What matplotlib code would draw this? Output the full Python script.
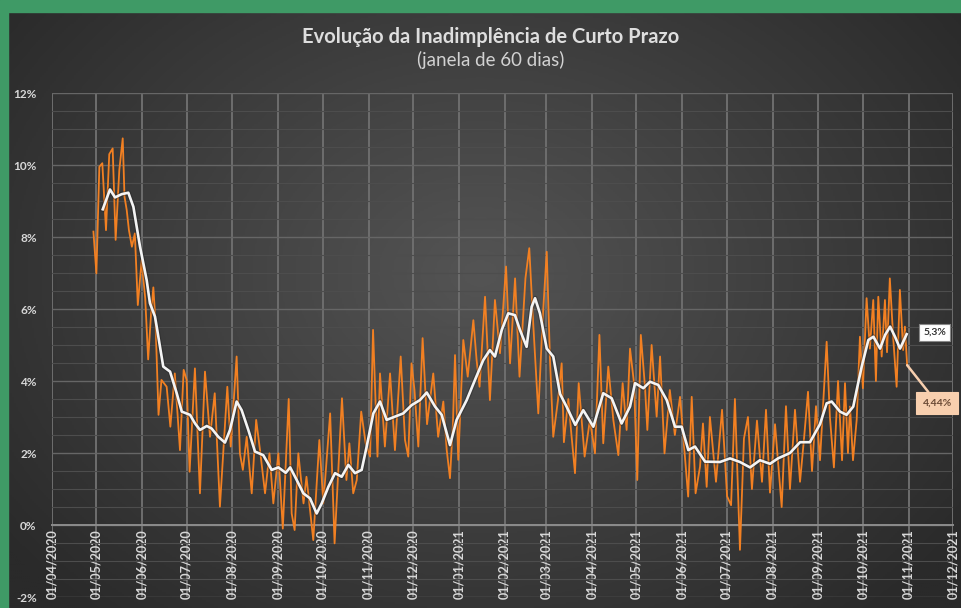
import numpy as np
import pandas as pd
import matplotlib
matplotlib.use("Agg")
import matplotlib.pyplot as plt
from matplotlib.patches import Rectangle
from matplotlib.ticker import MultipleLocator, FuncFormatter
from matplotlib.colors import LinearSegmentedColormap

plt.rcParams['font.family'] = ['Lato', 'DejaVu Sans']

# dias contados a partir de 01/04/2020
inicio = pd.Timestamp("2020-04-01")

# inadimplência diária (%)
dias_diaria = [28, 30, 32, 34, 36.5, 38.7, 41, 43, 45.5, 47.8, 49, 50.5, 52, 54, 56, 58, 60.6, 63, 65, 67,
               68.5, 70, 72, 74, 77.5, 80, 83, 86.5, 89, 91, 93, 96.6, 100, 103.4, 106.8, 110, 113.5, 118.5,
               120.8, 124.8, 127, 129, 131.6, 135, 138, 140.6, 144, 147, 149.6, 153, 156, 160, 162, 164,
               166.5, 170, 172, 176.6, 180.7, 183.4, 188, 191, 194.7, 196, 199, 201, 203.6, 206, 209, 212,
               215, 217, 220, 221.7, 225, 228.5, 231.8, 235.7, 238.6, 240.8, 243, 245, 247.6, 250.5, 253.5,
               257.7, 261, 264.5, 266.8, 269, 271, 272.4, 274.6, 278, 281, 284.8, 287, 289, 292.7, 296,
               299.4, 302.8, 306.9, 309.6, 313, 316, 320, 322.6, 325, 328.7, 331.6, 334.4, 336.6, 338.8,
               342, 344.5, 346, 349, 351, 353.5, 356, 360, 363.6, 367, 370, 372.6, 376, 379.4, 382.8,
               385.7, 388.4, 390.7, 393.4, 395.6, 398, 400.8, 402.4, 405.3, 408.7, 411, 414, 417.6, 421,
               424.5, 430, 432.4, 435, 438, 440, 442.5, 444.7, 448.8, 452.9, 456.3, 459, 461.6, 465,
               467.7, 470.4, 473.1, 476.5, 479.9, 482.6, 485.3, 488.7, 493.2, 496.1, 498.8, 502.2, 505.6,
               508.3, 511, 513.7, 516.4, 519.1, 523.6, 525.8, 528.5, 531.3, 534, 536, 538, 539.4, 541.4,
               543.9, 546.1, 548.1, 550.6, 552.8, 555.1, 556.9, 558.5, 560.8, 563, 564.4, 566.3, 568.6,
               570.9, 573.1, 575.3, 576.5, 578]
inad_diaria = [8.15, 6.99, 9.95, 10.05, 8.19, 10.3, 10.46, 7.92, 9.86, 10.74, 9.12, 8.75, 8.19, 7.73, 8.1, 6.11, 7.36, 6.3, 4.6, 5.9,
               6.6, 5.6, 3.06, 4.03, 3.84, 2.73, 4.21, 2.08, 4.31, 4.03, 1.48, 4.35, 0.88, 4.26, 2.45, 3.66, 0.51, 3.84,
               2.18, 4.68, 1.99, 1.53, 2.45, 0.88, 2.92, 2.08, 0.88, 1.99, 0.6, 1.99, -0.1, 3.5, 0.32, -0.14,
               1.99, 0.6, 1.34, -0.42, 2.36, 0.6, 3.1, -0.51, 2.45, 3.52, 1.25, 2.27, 0.88, 1.25, 3.15, 2.27,
               1.9, 5.42, 1.9, 4.21, 2.18, 4.21, 2.08, 4.68, 2.36, 1.9, 4.49, 3.75, 2.18, 5.19, 2.8,
               4.21, 2.45, 3.43, 2.08, 1.3, 2.82, 4.72, 1.81, 5.14, 4.12, 5.69, 4.58, 3.84, 6.34, 3.47,
               6.25, 4.77, 7.18, 4.49, 6.85, 4.12, 6.85, 7.69, 5.79, 3.1, 5.69, 7.59, 4.58, 2.45,
               3.47, 4.49, 2.3, 3.5, 2.55, 1.44, 3.94, 1.9, 2.92, 1.99, 5.28, 2.27, 4.4, 2.92, 1.94,
               3.94, 2.64, 4.9, 3.94, 1.25, 5.28, 3.84, 2.64, 5.0, 3.01, 4.68, 1.99, 3.75, 2.5,
               3.56, 0.79, 3.56, 0.88, 1.62, 2.82, 1.06, 3.0, 1.2, 3.2, 0.8, 0.55, 3.5, -0.69,
               2.4, 3.0, 1.0, 2.9, 1.2, 3.2, 0.9, 2.8, 0.5, 3.3, 1.0, 3.2, 1.2,
               2.4, 3.7, 1.5, 3.3, 1.8, 5.09, 3.0, 1.6, 4.0, 1.8, 3.94, 2.0, 3.29, 1.8,
               2.92, 5.23, 3.8, 6.3, 4.9, 6.25, 4.0, 6.34, 4.68, 6.25, 4.8, 6.85, 5.19,
               3.84, 6.53, 4.86, 5.51, 4.44]

# média móvel (%)
dias_media = [34.3, 39.2, 42.6, 47.1, 51.6, 55, 59.5, 64, 66.2, 69.6, 70.8, 75.2, 79.8, 84.3, 87.7, 93.3, 96.7,
              100, 104.6, 107.9, 112.4, 116.9, 120.3, 124.8, 128.2, 132.7, 137.2, 142.8, 148.5, 153, 158, 161,
              165.4, 169.9, 174.4, 178.9, 182.3, 186.8, 191.3, 195.8, 200.3, 204.8, 209.3, 212.7, 217.2,
              221.7, 226.2, 231.8, 237.4, 243.1, 248.7, 253.3, 258.9, 263.4, 269, 273.5, 280.3, 285.9,
              291.5, 296, 299.4, 304, 308.4, 312.9, 316.3, 320.8, 324.2, 326.5, 329.8, 334.4, 338.8,
              343.4, 347.9, 353.7, 359.1, 365.9, 372.6, 378.3, 385, 390.7, 394.1, 399.7, 404.2, 409.8,
              415.5, 421.1, 425.6, 430.1, 434.6, 441.4, 451.5, 458.3, 465, 471.8, 478.5, 485.3, 490.7,
              498.8, 505.6, 512.3, 519.1, 523.6, 527, 532.6, 537.1, 541.6, 543.9, 547.3, 551.8, 555.2,
              559.7, 563.1, 566.5, 569.8, 573.2, 577.7]
inad_media = [8.77, 9.32, 9.1, 9.19, 9.23, 8.84, 7.73, 6.8, 6.16, 5.79, 5.5, 4.4, 4.26, 3.66, 3.15, 3.06, 2.82,
              2.64, 2.75, 2.68, 2.45, 2.29, 2.64, 3.43, 3.19, 2.64, 2.04, 1.94, 1.53, 1.6, 1.45, 1.6,
              1.25, 0.88, 0.74, 0.32, 0.6, 1.06, 1.44, 1.34, 1.67, 1.44, 1.53, 2.18, 3.1,
              3.43, 2.92, 3.01, 3.1, 3.33, 3.47, 3.68, 3.29, 3.06, 2.22, 2.92, 3.47, 4.03,
              4.58, 4.86, 4.68, 5.42, 5.88, 5.83, 5.42, 4.95, 6.06, 6.3, 5.88, 4.9, 4.68,
              3.64, 3.28, 2.78, 3.19, 2.73, 3.66, 3.52, 2.82, 3.29, 3.94, 3.8, 3.98, 3.89,
              3.47, 2.73, 2.73, 2.08, 2.18, 1.76, 1.75, 1.85, 1.75, 1.6, 1.8, 1.7, 1.85,
              2.0, 2.3, 2.3, 2.8, 3.38, 3.43, 3.15, 3.06, 3.29, 3.75, 4.4, 5.14, 5.23,
              4.9, 5.28, 5.51, 5.23, 4.9, 5.3]

meses = pd.date_range("2020-04-01", "2021-12-01", freq="MS")
rotulo_media = "5,3%"
rotulo_diaria = "4,44%"

datas_diaria = inicio + pd.to_timedelta(dias_diaria, unit="D")
datas_media = inicio + pd.to_timedelta(dias_media, unit="D")

fig = plt.figure(figsize=(9.61, 6.08), dpi=100)

# fundo com degradê radial
bg = fig.add_axes([0, 0, 1, 1], zorder=-10)
yy, xx = np.mgrid[0:1:300j, 0:1:480j]
r = np.clip(np.sqrt(((xx - 0.5) / 0.62) ** 2 + ((yy - 0.45) / 0.75) ** 2), 0, 1)
cmap_bg = LinearSegmentedColormap.from_list("bg", ["#545454", "#2a2a2a"])
bg.imshow(r, cmap=cmap_bg, aspect="auto", extent=[0, 1, 0, 1], origin="upper")
bg.set_axis_off()

# moldura verde
verde = "#3f9a66"
fig.patches.append(Rectangle((0, 0), 8 / 961, 1, transform=fig.transFigure, color=verde, zorder=20))
fig.patches.append(Rectangle((0, 1 - 12 / 608), 1, 12 / 608, transform=fig.transFigure, color=verde, zorder=20))

ax = fig.add_axes([52 / 961, 1 - 597 / 608, (953 - 52) / 961, (597 - 93) / 608])
ax.set_facecolor("none")
ax.set_xlim(meses[0], meses[-1])
ax.set_ylim(-2, 12)

# grades
ax.yaxis.set_major_locator(MultipleLocator(2))
ax.yaxis.set_minor_locator(MultipleLocator(0.5))
ax.set_xticks(meses)
ax.set_xticklabels([m.strftime("%d/%m/%Y") for m in meses])
ax.grid(axis="y", which="major", color="#666666", lw=1.0)
ax.grid(axis="y", which="minor", color="#4d4d4d", lw=0.8)
ax.grid(axis="x", which="major", color="#6e6e6e", lw=1.4)
ax.set_axisbelow(True)

for s in ["top", "right", "left"]:
    ax.spines[s].set_visible(False)
ax.spines["bottom"].set_position(("data", 0))
ax.spines["bottom"].set_color("#8c8c8c")
ax.spines["bottom"].set_linewidth(1.4)

ax.yaxis.set_major_formatter(FuncFormatter(lambda v, p: f"{v:.0f}%"))
ax.tick_params(axis="both", which="both", length=0, colors="#d8d8d8")
ax.tick_params(axis="y", labelsize=8.5, pad=11)
ax.tick_params(axis="x", labelsize=9, pad=3, labelrotation=90)
for t in ax.get_xticklabels() + ax.get_yticklabels():
    t.set_fontweight("bold")

ax.plot(datas_diaria, inad_diaria, color="#f28022", lw=1.3, zorder=3)
ax.plot(datas_media, inad_media, color="#1e1e1e", lw=3.6, alpha=0.35, zorder=4)
ax.plot(datas_media, inad_media, color="#f4f4f4", lw=1.9, zorder=5)

# rótulos finais
ax.annotate(rotulo_media, xy=(datas_media[-1], inad_media[-1]), xytext=(28, 2),
            textcoords="offset pixels", ha="center", va="center", fontsize=7.5,
            fontweight="bold", color="#333333",
            bbox=dict(boxstyle="square,pad=0.4", fc="#ffffff", ec="#888888", lw=0.8), zorder=6)
ax.annotate(rotulo_diaria, xy=(datas_diaria[-1], inad_diaria[-1]), xytext=(30, -38),
            textcoords="offset pixels", ha="center", va="center", fontsize=7.5,
            fontweight="bold", color="#6b4a35",
            bbox=dict(boxstyle="square,pad=0.6", fc="#f8cfae", ec="#f8cfae", lw=0.8),
            arrowprops=dict(arrowstyle="-", color="#f8cfae", lw=1.8, shrinkA=0, shrinkB=0), zorder=6)

fig.text(491 / 961, 1 - 37 / 608, "Evolução da Inadimplência de Curto Prazo", ha="center", va="center",
         fontsize=14.5, fontweight="bold", color="#dedede")
fig.text(491 / 961, 1 - 60 / 608, "(janela de 60 dias)", ha="center", va="center",
         fontsize=13.5, color="#d2d2d2")

fig.savefig("out.png", dpi=100)
